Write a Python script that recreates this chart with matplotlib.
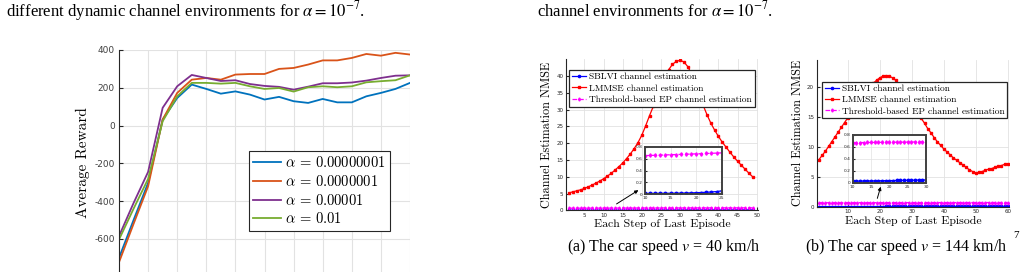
import numpy as np
import matplotlib
matplotlib.use("Agg")
import matplotlib.pyplot as plt

plt.rcParams["axes.unicode_minus"] = False

# ── Data: left chart (average reward per step) ────────────────────────────────
steps = list(range(0, 21))
reward_a1 = [-700, -500, -303, 32, 146, 217, 194, 169, 181, 164, 138,
             152, 129, 120, 141, 123, 123, 155, 173, 194, 226]
reward_a2 = [-723, -520, -321, 32, 173, 243, 252, 243, 270, 273, 273,
             300, 305, 323, 345, 345, 358, 379, 370, 385, 376]
reward_a3 = [-585, -410, -245, 94, 208, 268, 252, 236, 240, 220, 210,
             205, 190, 206, 224, 224, 228, 238, 252, 264, 266]
reward_a4 = [-603, -440, -282, 23, 155, 226, 226, 222, 226, 208, 194,
             199, 180, 203, 208, 203, 208, 229, 235, 240, 266]
alpha_labels = [r"$\alpha\,=\,0.00000001$", r"$\alpha\,=\,0.0000001$",
                r"$\alpha\,=\,0.00001$", r"$\alpha\,=\,0.01$"]

# ── Data: panel (a) v = 40 km/h ───────────────────────────────────────────────
step_a = list(range(1, 50))
lmmse_a = [5.2, 5.5, 5.8, 6.1, 6.5, 7.0, 7.5, 8.1, 8.7, 9.4,
           10.2, 11.0, 12.0, 13.0, 14.1, 15.4, 16.8, 18.4, 20.2, 22.4,
           25.2, 28.2, 31.0, 34.0, 36.9, 39.6, 41.9, 43.5, 44.4, 44.7,
           44.2, 42.8, 40.6, 37.7, 34.5, 31.3, 28.5, 26.0, 23.9, 22.0,
           20.3, 18.8, 17.3, 15.9, 14.6, 13.4, 12.2, 11.0, 9.9]
ep_a = [0.620, 0.623, 0.626, 0.629, 0.632, 0.635, 0.639, 0.643, 0.646, 0.650,
        0.653, 0.656, 0.659, 0.662, 0.665, 0.668, 0.671, 0.674, 0.677, 0.680,
        0.683, 0.686, 0.689, 0.693, 0.697, 0.699, 0.701, 0.703, 0.705, 0.707,
        0.709, 0.710, 0.712, 0.713, 0.715, 0.716, 0.717, 0.719, 0.720, 0.721,
        0.722, 0.723, 0.724, 0.725, 0.726, 0.727, 0.728, 0.729, 0.730]
sblvi_a = [0.012, 0.012, 0.013, 0.013, 0.013, 0.014, 0.014, 0.014, 0.015, 0.015,
           0.016, 0.016, 0.017, 0.017, 0.018, 0.019, 0.020, 0.022, 0.024, 0.027,
           0.030, 0.034, 0.039, 0.046, 0.058, 0.062, 0.066, 0.070, 0.073, 0.076,
           0.078, 0.080, 0.082, 0.084, 0.085, 0.087, 0.088, 0.089, 0.090, 0.091,
           0.092, 0.093, 0.094, 0.095, 0.096, 0.097, 0.098, 0.099, 0.100]

# ── Data: panel (b) v = 144 km/h ──────────────────────────────────────────────
step_b = list(range(1, 61))
lmmse_b = [7.9, 8.6, 9.3, 10.1, 10.9, 11.7, 12.5, 13.3, 14.1, 14.9,
           15.7, 16.5, 17.3, 18.1, 18.8, 19.5, 20.1, 20.7, 21.2, 21.6,
           21.9, 22.0, 21.9, 21.6, 21.2, 20.6, 19.9, 19.1, 18.3, 17.4,
           16.5, 15.6, 14.8, 14.0, 13.1, 12.4, 11.6, 10.9, 10.3, 9.7,
           9.2, 8.7, 8.2, 7.8, 7.4, 7.0, 6.6, 6.2, 5.9, 5.6,
           5.8, 5.9, 6.1, 6.3, 6.4, 6.6, 6.8, 6.9, 7.1, 7.2]
ep_b = [0.665, 0.666, 0.667, 0.667, 0.668, 0.668, 0.669, 0.669, 0.670, 0.671,
        0.672, 0.672, 0.673, 0.674, 0.674, 0.675, 0.676, 0.676, 0.677, 0.678,
        0.678, 0.679, 0.680, 0.680, 0.681, 0.682, 0.683, 0.684, 0.685, 0.686,
        0.686, 0.687, 0.687, 0.688, 0.688, 0.689, 0.689, 0.690, 0.690, 0.691,
        0.691, 0.692, 0.692, 0.693, 0.693, 0.694, 0.694, 0.695, 0.695, 0.696,
        0.696, 0.697, 0.697, 0.698, 0.698, 0.699, 0.699, 0.700, 0.700, 0.701]
sblvi_b = [0.018, 0.018, 0.019, 0.019, 0.020, 0.020, 0.021, 0.021, 0.022, 0.022,
           0.023, 0.024, 0.025, 0.026, 0.027, 0.028, 0.029, 0.030, 0.031, 0.032,
           0.033, 0.034, 0.035, 0.036, 0.037, 0.038, 0.039, 0.041, 0.042, 0.044,
           0.045, 0.046, 0.047, 0.048, 0.049, 0.050, 0.051, 0.052, 0.053, 0.054,
           0.055, 0.056, 0.057, 0.058, 0.059, 0.060, 0.061, 0.062, 0.063, 0.064,
           0.065, 0.066, 0.067, 0.068, 0.069, 0.070, 0.071, 0.072, 0.073, 0.074]
method_labels = ["SBLVI channel estimation", "LMMSE channel estimation",
                 "Threshold-based EP channel estimation"]

# ── Layout helpers (pixel -> figure fraction) ─────────────────────────────────
W, H = 1023, 272


def fx(px):
    return px / W


def fy(py):
    return 1 - py / H


def rect(x0, y0, x1, y1):
    return [fx(x0), fy(y1), (x1 - x0) / W, (y1 - y0) / H]


GRID = "#e2e2e2"
DARK = "#262626"
MATLAB = ["#0072BD", "#D95319", "#7E2F8E", "#77AC30"]

fig = plt.figure(figsize=(W / 100, H / 100), dpi=100)

# ── Captions at the top ───────────────────────────────────────────────────────
fig.text(fx(6), fy(16.5), r"different dynamic channel environments for $\alpha = 10^{-7}$.",
         fontsize=12, fontfamily="Liberation Serif", math_fontfamily="stix", va="baseline")
fig.text(fx(537), fy(16.5), r"channel environments for $\alpha = 10^{-7}$.",
         fontsize=12, fontfamily="Liberation Serif", math_fontfamily="stix", va="baseline")

# ── Left chart ────────────────────────────────────────────────────────────────
ax = fig.add_axes(rect(119, 50, 410, 276.8))
for ys, c, lab in zip([reward_a1, reward_a2, reward_a3, reward_a4], MATLAB, alpha_labels):
    ax.plot(steps, ys, color=c, lw=1.3, label=lab)
ax.set_xlim(0, 20)
ax.set_ylim(-800, 400)
ax.set_xticks(range(0, 21, 2))
ax.set_yticks(range(-600, 401, 200))
ax.grid(color=GRID, lw=0.8)
ax.set_axisbelow(True)
for s in ("top", "right", "bottom"):
    ax.spines[s].set_visible(False)
ax.spines["left"].set_color(DARK)
ax.spines["left"].set_linewidth(0.8)
ax.tick_params(axis="y", direction="in", length=3, labelsize=6.5,
               labelcolor="#404040", color=DARK, pad=3)
ax.tick_params(axis="x", bottom=False, labelbottom=False)
ax.set_ylabel("Average Reward", fontfamily="cmr10", fontsize=11)
ax.yaxis.set_label_coords((90 - 119) / 291, (276.8 - 163) / 226.8)
leg = ax.legend(loc="upper left", bbox_to_anchor=(fx(249), fy(151)),
                bbox_transform=fig.transFigure, borderaxespad=0,
                prop={"size": 10.5, "math_fontfamily": "cm"},
                handlelength=1.9, handletextpad=0.3, labelspacing=0.25,
                borderpad=0.3, fancybox=False, framealpha=1)
leg.get_frame().set_edgecolor(DARK)
leg.get_frame().set_linewidth(0.8)


# ── Right panels ──────────────────────────────────────────────────────────────
def style_axes(a, ticksize):
    for s in ("top", "right"):
        a.spines[s].set_visible(False)
    for s in ("left", "bottom"):
        a.spines[s].set_color(DARK)
        a.spines[s].set_linewidth(0.8)
    a.grid(color=GRID, lw=0.6)
    a.set_axisbelow(True)
    a.tick_params(direction="in", length=2, labelsize=ticksize,
                  labelcolor=DARK, color=DARK, pad=2)


def draw_lines(a, x, s, l, e, ms):
    a.plot(x, s, "-", color="#0000ff", lw=0.9, marker="o", ms=ms, label=method_labels[0])
    a.plot(x, l, "-", color="#ff0000", lw=0.9, marker="s", ms=ms, label=method_labels[1])
    a.plot(x, e, "--", color="#ff00ff", lw=0.9, marker="d", ms=ms, label=method_labels[2])


def panel(box, x, lmmse, ep, sblvi, xlim, ylim, xticks, yticks,
          inset_box, inset_xlim, inset_xticks, leg_xy, arrow_from, arrow_to,
          ylabel_x, caption, caption_x):
    a = fig.add_axes(rect(*box))
    draw_lines(a, x, sblvi, lmmse, ep, 1.6)
    a.set_xlim(*xlim)
    a.set_ylim(*ylim)
    a.set_xticks(xticks)
    a.set_yticks(yticks)
    style_axes(a, 4)
    a.set_xlabel("Each Step of Last Episode", fontfamily="cmr10", fontsize=8.5, labelpad=1)
    a.set_ylabel("Channel Estimation NMSE", fontfamily="cmr10", fontsize=8.8)
    a.yaxis.set_label_coords((ylabel_x - box[0]) / (box[2] - box[0]), 0.5)
    lg = a.legend(loc="upper left", bbox_to_anchor=(fx(leg_xy[0]), fy(leg_xy[1])),
                  bbox_transform=fig.transFigure, borderaxespad=0,
                  prop={"family": "cmr10", "size": 6.8},
                  handlelength=1.5, handletextpad=0.3, labelspacing=0.28,
                  borderpad=0.3, fancybox=False, framealpha=1)
    lg.get_frame().set_edgecolor(DARK)
    lg.get_frame().set_linewidth(0.9)
    a.annotate("", xy=arrow_to, xytext=arrow_from,
               arrowprops=dict(arrowstyle="-|>", color="k", lw=0.7,
                               mutation_scale=5, shrinkA=0, shrinkB=0))

    ins = fig.add_axes(rect(*inset_box))
    draw_lines(ins, x, sblvi, lmmse, ep, 1.8)
    ins.set_xlim(*inset_xlim)
    ins.set_ylim(0, 0.8)
    ins.set_xticks(inset_xticks)
    ins.set_yticks([0, 0.2, 0.4, 0.6, 0.8])
    ins.set_yticklabels(["0", "0.2", "0.4", "0.6", "0.8"])
    ins.grid(color=GRID, lw=0.5)
    ins.set_axisbelow(True)
    for s in ins.spines.values():
        s.set_color("#404040")
        s.set_linewidth(1.4)
    ins.tick_params(direction="in", length=1.5, labelsize=3.2,
                    labelcolor=DARK, color=DARK, pad=1.5)

    fig.text(fx(caption_x), fy(247), caption, fontsize=11.5,
             fontfamily="Liberation Serif", math_fontfamily="stix",
             ha="center", va="center")


panel((566, 59.3, 758.3, 210.3), step_a, lmmse_a, ep_a, sblvi_a,
      (0.2, 50.4), (0, 45), range(5, 51, 5), range(0, 41, 5),
      (645, 146.7, 721.7, 194.3), (10, 25), [10, 15, 20, 25],
      (569.3, 70), (13.4, 1.9), (19.1, 6.0), 553,
      r"(a) The car speed $v$ = 40 km/h", 664)

panel((816.7, 60, 1009.3, 206.7), step_b, lmmse_b, ep_b, sblvi_b,
      (0.3, 60.5), (0, 24.6), range(10, 61, 10), range(0, 21, 5),
      (852.7, 135, 926, 182.5), (10, 30), [10, 15, 20, 25, 30],
      (821.7, 81.7), (19.25, 1.4), (20.3, 3.35), 804,
      r"(b) The car speed $v$ = 144 km/h", 906)

fig.text(fx(1016), fy(236), "7", fontsize=8, fontfamily="Liberation Serif",
         ha="center", va="center")

fig.savefig("out.png", dpi=100)
